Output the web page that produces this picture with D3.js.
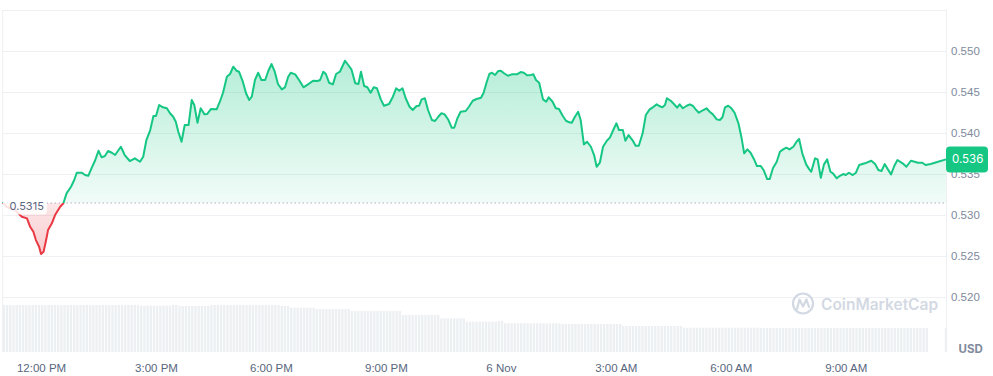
<!DOCTYPE html>
<html><head><meta charset="utf-8">
<script src="https://cdn.jsdelivr.net/npm/d3@7"></script>
<style>
html,body{margin:0;padding:0;background:#fff;}
svg{display:block;font-family:Inter,"Noto Sans",sans-serif;}
</style></head><body>
<svg id="chart" width="993" height="376"></svg>
<script>
// ---------- DATA ----------
const startTime = new Date(2024, 10, 5, 11, 0);   // 5 Nov, 11:00 AM
const endMinutes = 1477;
const baselinePrice = 0.5315;
const yTicks = [0.520, 0.525, 0.530, 0.535, 0.540, 0.545, 0.550];

// minutes after start time
const priceMinutes = [
  0,6,19,30,38,43,48,52,57,60,
  64,68,71,77,82,90,95,100,107,112,
  116,124,129,134,139,145,150,155,160,165,
  171,176,185,191,199,207,215,220,225,231,
  236,240,245,251,257,262,267,271,275,280,
  285,291,296,300,305,310,316,320,326,335,
  340,345,351,356,361,366,370,376,381,386,
  390,395,400,405,411,416,421,426,431,437,
  442,447,451,458,464,471,478,486,493,497,
  502,506,511,517,522,528,536,541,546,552,
  557,561,566,571,576,581,586,592,597,605,
  611,616,621,626,631,637,642,648,652,656,
  661,666,672,677,682,687,692,698,703,707,
  712,717,725,730,736,742,749,753,758,762,
  766,771,776,780,785,791,797,805,811,816,
  821,827,831,835,840,846,851,855,861,866,
  871,877,882,887,891,896,901,905,910,915,
  921,926,930,935,940,946,951,956,961,965,
  971,975,980,986,991,996,1002,1007,1013,1018,
  1024,1028,1033,1037,1040,1046,1051,1056,1060,1065,
  1071,1076,1081,1085,1090,1097,1102,1107,1112,1118,
  1123,1127,1131,1136,1141,1146,1152,1157,1161,1166,
  1171,1177,1181,1187,1192,1197,1201,1206,1212,1217,
  1222,1227,1232,1238,1243,1247,1252,1258,1263,1266,
  1272,1276,1281,1286,1291,1296,1300,1306,1311,1316,
  1320,1325,1331,1336,1341,1350,1360,1366,1371,1376,
  1381,1386,1391,1396,1401,1409,1415,1422,1428,1433,
  1440,1445,1453,1462,1477
];
const prices = [
  0.53160,0.53104,0.53064,0.52982,0.52963,0.52860,0.52799,0.52698,0.52616,0.52527,
  0.52555,0.52698,0.52820,0.52902,0.53003,0.53104,0.53146,0.53268,0.53348,0.53430,
  0.53519,0.53519,0.53491,0.53482,0.53573,0.53674,0.53787,0.53707,0.53723,0.53784,
  0.53763,0.53735,0.53836,0.53735,0.53662,0.53695,0.53653,0.53714,0.53918,0.54040,
  0.54211,0.54211,0.54345,0.54317,0.54305,0.54244,0.54202,0.54141,0.54019,0.53897,
  0.54101,0.54101,0.54406,0.54345,0.54129,0.54305,0.54231,0.54235,0.54296,0.54292,
  0.54385,0.54495,0.54690,0.54723,0.54812,0.54763,0.54751,0.54629,0.54488,0.54406,
  0.54446,0.54650,0.54739,0.54650,0.54650,0.54763,0.54845,0.54751,0.54601,0.54536,
  0.54561,0.54690,0.54739,0.54719,0.54650,0.54561,0.54597,0.54641,0.54638,0.54650,
  0.54751,0.54723,0.54617,0.54597,0.54723,0.54751,0.54885,0.54833,0.54780,0.54610,
  0.54601,0.54751,0.54577,0.54561,0.54495,0.54561,0.54549,0.54414,0.54336,0.54357,
  0.54446,0.54549,0.54519,0.54549,0.54427,0.54324,0.54284,0.54333,0.54336,0.54414,
  0.54427,0.54284,0.54162,0.54150,0.54202,0.54244,0.54231,0.54162,0.54068,0.54068,
  0.54183,0.54263,0.54272,0.54324,0.54397,0.54418,0.54434,0.54495,0.54629,0.54723,
  0.54739,0.54711,0.54760,0.54763,0.54732,0.54702,0.54719,0.54719,0.54747,0.54739,
  0.54707,0.54711,0.54719,0.54650,0.54617,0.54414,0.54385,0.54439,0.54385,0.54305,
  0.54296,0.54211,0.54153,0.54134,0.54129,0.54202,0.54263,0.54162,0.53865,0.53897,
  0.53836,0.53735,0.53592,0.53641,0.53836,0.53909,0.53951,0.54040,0.54122,0.54040,
  0.54040,0.53909,0.53979,0.53918,0.53848,0.53848,0.54000,0.54223,0.54292,0.54317,
  0.54353,0.54333,0.54317,0.54345,0.54427,0.54397,0.54357,0.54312,0.54353,0.54305,
  0.54336,0.54353,0.54333,0.54292,0.54251,0.54284,0.54305,0.54263,0.54231,0.54170,
  0.54162,0.54195,0.54317,0.54336,0.54305,0.54251,0.54122,0.53939,0.53756,0.53804,
  0.53763,0.53674,0.53601,0.53601,0.53543,0.53442,0.53442,0.53573,0.53653,0.53775,
  0.53804,0.53824,0.53804,0.53836,0.53897,0.53930,0.53756,0.53621,0.53560,0.53531,
  0.53695,0.53682,0.53458,0.53621,0.53682,0.53531,0.53512,0.53451,0.53482,0.53503,
  0.53491,0.53519,0.53491,0.53519,0.53613,0.53634,0.53665,0.53625,0.53552,0.53540,
  0.53625,0.53560,0.53499,0.53601,0.53674,0.53634,0.53592,0.53665,0.53653,0.53641,
  0.53641,0.53613,0.53625,0.53646,0.53682
];

// 24h volume, one bar per 5 minutes (relative units); null = no bar
const volumeStepMinutes = 5;
const volumes = [
  470,470,470,470,470,470,470,470,470,470,470,470,470,470,470,470,470,470,470,470,
  470,470,470,470,470,470,470,470,470,470,470,470,470,470,470,470,470,470,470,470,
  470,470,470,
  463,463,463,463,463,463,463,463,463,463,
  470,470,
  460,460,460,460,460,460,460,460,460,460,
  470,470,470,470,470,470,470,470,470,470,470,470,470,470,470,470,470,470,470,470,470,470,
  460,460,460,
  443,443,443,443,443,443,443,443,
  430,430,430,430,430,430,430,430,430,430,430,
  410,410,410,410,410,410,410,410,410,410,410,410,410,410,410,410,
  370,370,370,370,370,370,370,370,370,370,370,370,
  337,337,337,337,337,337,337,337,
  303,303,303,303,303,303,303,303,303,303,
  310,310,
  287,287,287,287,287,287,287,287,287,287,287,287,287,287,287,287,287,287,
  280,280,280,280,280,280,280,280,280,280,280,280,280,280,280,280,280,280,280,
  260,260,260,260,260,260,260,260,260,260,260,260,260,260,260,260,260,260,260,
  243,243,243,243,243,243,243,243,243,243,243,243,243,243,243,243,243,243,243,243,243,243,243,243,243,
  240,240,240,240,240,240,240,240,240,240,240,240,240,240,240,240,240,240,240,240,
  240,240,240,240,240,240,240,240,240,240,240,240,240,240,240,240,240,240,240,240,
  240,240,240,240,240,240,240,240,240,240,240,240,
  null,null,null,null,null,237
];

// ---------- CHART ----------
const svg = d3.select("#chart");
const W = 993, H = 376;
const plotLeft = 2.7, plotRight = 946, plotTop = 10, plotBottom = 352;
const green = "#16c784", red = "#ea3943";
const gridColor = "#eef0f3";
const addMin = m => new Date(startTime.getTime() + m * 60000);

const x = d3.scaleTime().domain([startTime, addMin(endMinutes)]).range([plotLeft, plotRight]);
const y = d3.scaleLinear().domain([0.520, 0.550]).range([297.3, 51.3]);
const yVol = d3.scaleLinear().domain([0, 470]).range([plotBottom, 305]);

const data = priceMinutes.map((m, i) => ({ t: addMin(m), p: prices[i] }));
const yBase = y(baselinePrice);

const defs = svg.append("defs");
const gG = defs.append("linearGradient").attr("id", "gGreen")
  .attr("gradientUnits", "userSpaceOnUse").attr("x1", 0).attr("x2", 0)
  .attr("y1", y(0.549)).attr("y2", yBase);
gG.append("stop").attr("offset", 0).attr("stop-color", green).attr("stop-opacity", 0.32);
gG.append("stop").attr("offset", 1).attr("stop-color", green).attr("stop-opacity", 0.06);
const gR = defs.append("linearGradient").attr("id", "gRed")
  .attr("gradientUnits", "userSpaceOnUse").attr("x1", 0).attr("x2", 0)
  .attr("y1", yBase).attr("y2", y(0.5253));
gR.append("stop").attr("offset", 0).attr("stop-color", red).attr("stop-opacity", 0.12);
gR.append("stop").attr("offset", 1).attr("stop-color", red).attr("stop-opacity", 0.26);
defs.append("clipPath").attr("id", "above").append("rect")
  .attr("x", 0).attr("y", 0).attr("width", W).attr("height", yBase);
defs.append("clipPath").attr("id", "below").append("rect")
  .attr("x", 0).attr("y", yBase).attr("width", W).attr("height", H - yBase);

// frame & grid
const frame = svg.append("g").attr("stroke", gridColor).attr("stroke-width", 1).attr("fill", "none");
frame.append("line").attr("x1", plotLeft).attr("x2", plotRight).attr("y1", plotTop + 0.5).attr("y2", plotTop + 0.5);
frame.append("line").attr("x1", plotLeft).attr("x2", plotLeft).attr("y1", plotTop).attr("y2", plotBottom);
frame.append("line").attr("x1", plotRight + 0.5).attr("x2", plotRight + 0.5).attr("y1", plotTop).attr("y2", plotBottom);
frame.selectAll("line.grid").data(yTicks).enter().append("line").attr("class", "grid")
  .attr("x1", plotLeft).attr("x2", plotRight)
  .attr("y1", d => Math.round(y(d)) + 0.5).attr("y2", d => Math.round(y(d)) + 0.5);

// volume bars
const barW = x(addMin(volumeStepMinutes)) - x(startTime);
svg.append("g").selectAll("rect").data(volumes.map((v, i) => ({ v, t: addMin(i * volumeStepMinutes) })).filter(d => d.v != null))
  .enter().append("rect")
  .attr("x", d => x(d.t)).attr("width", barW - 0.8)
  .attr("y", d => yVol(d.v)).attr("height", d => plotBottom - yVol(d.v))
  .attr("fill", "#edf0f3");

// watermark
const wm = svg.append("g").attr("fill", "none").attr("stroke", "#d3d9e3").attr("stroke-width", 2.2)
  .attr("stroke-linecap", "round").attr("stroke-linejoin", "round");
wm.append("circle").attr("cx", 803).attr("cy", 303.5).attr("r", 10);
wm.append("path").attr("d", "M797,309 L799.5,299.5 L803,306.5 L806.5,299.5 L809,307");
svg.append("text").attr("x", 821).attr("y", 309.5).attr("fill", "#d3d9e3")
  .attr("font-size", 15.5).attr("font-weight", 600).text("CoinMarketCap");

// areas
const area = d3.area().x(d => x(d.t)).y0(yBase).y1(d => y(d.p));
svg.append("path").datum(data).attr("d", area).attr("fill", "url(#gGreen)").attr("clip-path", "url(#above)");
svg.append("path").datum(data).attr("d", area).attr("fill", "url(#gRed)").attr("clip-path", "url(#below)");

// baseline
svg.append("line").attr("x1", plotLeft).attr("x2", plotRight).attr("y1", yBase).attr("y2", yBase)
  .attr("stroke", "#8a94a6").attr("stroke-width", 1).attr("stroke-dasharray", "1,3");

// lines
const line = d3.line().x(d => x(d.t)).y(d => y(d.p));
svg.append("path").datum(data).attr("d", line).attr("fill", "none").attr("stroke", green)
  .attr("stroke-width", 2).attr("stroke-linejoin", "round").attr("clip-path", "url(#above)");
svg.append("path").datum(data).attr("d", line).attr("fill", "none").attr("stroke", red)
  .attr("stroke-width", 2).attr("stroke-linejoin", "round").attr("clip-path", "url(#below)");

// baseline label
svg.append("rect").attr("x", 3).attr("y", 197.5).attr("width", 44).attr("height", 17).attr("rx", 4)
  .attr("fill", "#ffffff").attr("fill-opacity", 0.85);
svg.append("text").attr("x", 9.5).attr("y", 210).attr("font-size", 11).attr("fill", "#58667e")
  .text(d3.format(".4f")(baselinePrice));

// right axis
const yAxis = svg.append("g").attr("transform", `translate(${plotRight},0)`)
  .call(d3.axisRight(y).tickValues(yTicks).tickSize(0).tickPadding(5).tickFormat(d3.format(".3f")));
yAxis.select(".domain").remove();
yAxis.selectAll("text").attr("font-size", 11.5).attr("fill", "#808a9d").attr("font-family", null);
svg.append("text").attr("x", 958.5).attr("y", 353).attr("font-size", 11.5).attr("font-weight", 700)
  .attr("fill", "#808a9d").text("USD");

// bottom axis
const fmtTick = d => (d.getHours() === 0 ? d3.timeFormat("%-d %b")(d) : d3.timeFormat("%-I:%M %p")(d));
const xAxis = svg.append("g").attr("transform", "translate(0,361)")
  .call(d3.axisBottom(x).ticks(d3.timeHour.every(3)).tickSize(0).tickPadding(3).tickFormat(fmtTick));
xAxis.select(".domain").remove();
xAxis.selectAll("text").attr("font-size", 11.5).attr("fill", "#58667e").attr("font-family", null);

// current price tag
const last = data[data.length - 1];
const yl = y(last.p);
svg.append("rect").attr("x", plotRight).attr("y", yl - 13).attr("width", 42).attr("height", 26).attr("rx", 4)
  .attr("fill", green);
svg.append("text").attr("x", plotRight + 6).attr("y", yl).attr("dy", "0.35em")
  .attr("font-size", 11.5).attr("fill", "#ffffff")
  .text((Math.floor(last.p * 1000) / 1000).toFixed(3));
</script></body></html>
